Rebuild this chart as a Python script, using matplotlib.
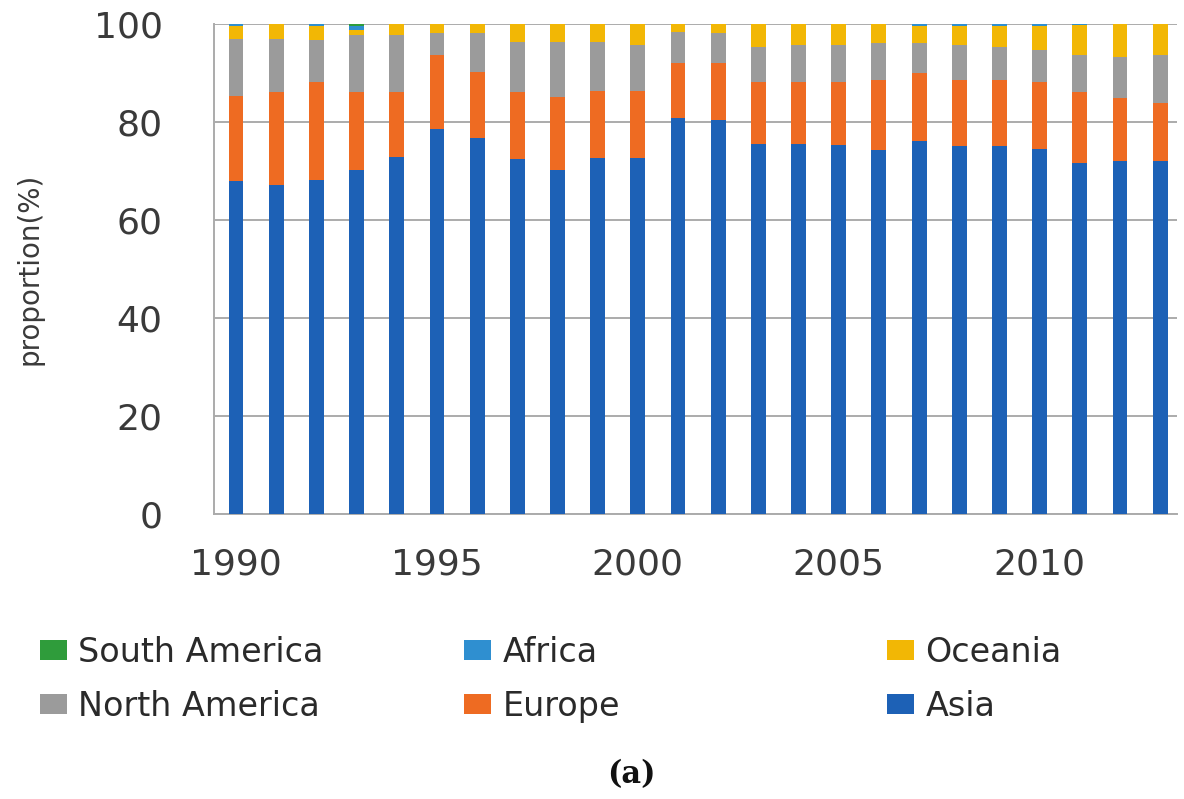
import matplotlib
matplotlib.use("Agg")
import matplotlib.pyplot as plt
import numpy as np

years = list(range(1990, 2014))

asia = [67.9, 67.1, 68.2, 70.3, 72.9, 78.5, 76.7, 72.4, 70.3, 72.7, 72.7, 80.8,
        80.4, 75.6, 75.6, 75.3, 74.3, 76.1, 75.0, 75.0, 74.4, 71.6, 72.1, 72.1]
europe = [17.3, 19.1, 20.0, 15.9, 13.3, 15.2, 13.6, 13.8, 14.7, 13.6, 13.6, 11.2,
          11.6, 12.6, 12.6, 12.9, 14.3, 13.8, 13.6, 13.6, 13.8, 14.6, 12.7, 11.7]
north_america = [11.7, 10.7, 8.5, 11.6, 11.6, 4.4, 7.8, 10.2, 11.4, 10.1, 9.4, 6.4,
                 6.1, 7.2, 7.5, 7.5, 7.5, 6.2, 7.1, 6.8, 6.5, 7.5, 8.5, 9.9]
oceania = [2.7, 3.0, 2.9, 0.9, 2.1, 1.8, 1.8, 3.5, 3.5, 3.5, 4.2, 1.5,
           1.8, 4.5, 4.2, 4.2, 3.8, 3.5, 3.9, 4.2, 4.9, 6.1, 6.6, 6.2]
africa = [0.3, 0.1, 0.3, 0.8, 0.1, 0.1, 0.1, 0.1, 0.1, 0.1, 0.1, 0.1,
          0.1, 0.1, 0.1, 0.1, 0.1, 0.3, 0.3, 0.3, 0.3, 0.2, 0.1, 0.1]
south_america = [0.1, 0.0, 0.1, 0.5, 0.0, 0.0, 0.0, 0.0, 0.0, 0.0, 0.0, 0.0,
                 0.0, 0.0, 0.0, 0.0, 0.0, 0.1, 0.1, 0.1, 0.1, 0.0, 0.0, 0.0]

series = [
    ("Asia", asia, "#1d61b6"),
    ("Europe", europe, "#ee6b22"),
    ("North America", north_america, "#9b9b9b"),
    ("Oceania", oceania, "#f2b705"),
    ("Africa", africa, "#2f8fd0"),
    ("South America", south_america, "#2f9c3b"),
]

fig = plt.figure(figsize=(11.84, 7.99), dpi=100)
ax = fig.add_axes([0.1807, 0.3567, 0.8134, 0.6133])

bottom = np.zeros(len(years))
bars = {}
for name, vals, color in series:
    v = np.array(vals)
    bars[name] = ax.bar(years, v, bottom=bottom, width=0.37, color=color,
                        label=name, zorder=3, linewidth=0)
    bottom += v

ax.set_ylim(0, 100)
ax.set_xlim(1990 - 0.55, 2013 + 0.42)
ax.set_yticks([0, 20, 40, 60, 80, 100])
ax.set_xticks([1990, 1995, 2000, 2005, 2010])
ax.yaxis.grid(True, color="#ababab", linewidth=1.4, zorder=0)
ax.set_axisbelow(True)
for s in ["top", "right"]:
    ax.spines[s].set_visible(False)
for s in ["left", "bottom"]:
    ax.spines[s].set_color("#ababab")
    ax.spines[s].set_linewidth(1.4)
ax.tick_params(axis="both", length=0, labelsize=26, colors="#3a3a3a")
ax.tick_params(axis="y", pad=37)
ax.tick_params(axis="x", pad=24)
ax.set_ylabel("proportion(%)", fontsize=20, color="#3a3a3a", labelpad=36)

legend_kw = dict(frameon=False, fontsize=24, handlelength=0.8, handleheight=0.55,
                 handletextpad=0.35, labelspacing=0.62, borderaxespad=0,
                 borderpad=0, loc="upper left", labelcolor="#2a2a2a")
columns = [
    (["South America", "North America"], 40 / 1184),
    (["Africa", "Europe"], 464 / 1184),
    (["Oceania", "Asia"], 887 / 1184),
]
for names, x in columns:
    fig.legend([bars[n] for n in names], names,
               bbox_to_anchor=(x, 1 - 636 / 799), **legend_kw)

fig.text(631 / 1184, 1 - 775 / 799, "(a)", ha="center", va="center", fontsize=22,
         fontweight="bold", family="DejaVu Serif", color="#111111")

fig.savefig("out.png", dpi=100)
